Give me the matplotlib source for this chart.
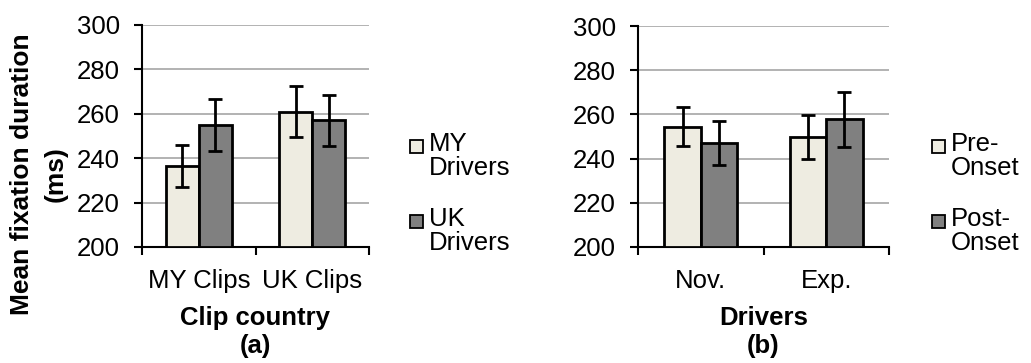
import matplotlib.pyplot as plt
import numpy as np
from matplotlib.patches import Rectangle

plt.rcParams['font.family'] = ['Liberation Sans', 'DejaVu Sans']

# panel (a)
clips = ['MY Clips', 'UK Clips']
my_drivers = [236.5, 261.0]
my_drivers_err = [9.5, 11.3]
uk_drivers = [254.9, 257.0]
uk_drivers_err = [11.7, 11.3]

# panel (b)
groups = ['Nov.', 'Exp.']
pre_onset = [254.5, 249.8]
pre_onset_err = [9.0, 10.1]
post_onset = [247.0, 257.7]
post_onset_err = [9.9, 12.6]

light = '#eeece1'
dark = '#808080'
fs = 18.5

W, H = 1031, 363
fig = plt.figure(figsize=(W / 100, H / 100), dpi=100)


def panel(rect, cats, a, a_err, b, b_err, xlabel, tag, leg_labels, leg_x):
    ax = fig.add_axes([rect[0] / W, 1 - rect[3] / H, (rect[2] - rect[0]) / W, (rect[3] - rect[1]) / H])
    x = np.arange(len(cats)) + 0.5
    w = 0.289
    ek = dict(ecolor='black', elinewidth=2, capsize=5, capthick=2)
    ax.bar(x - w / 2, np.array(a) - 200, w, bottom=200, yerr=a_err, color=light,
           edgecolor='black', linewidth=2, error_kw=ek, zorder=3)
    ax.bar(x + w / 2, np.array(b) - 200, w, bottom=200, yerr=b_err, color=dark,
           edgecolor='black', linewidth=2, error_kw=ek, zorder=3)
    ax.set_xlim(0, len(cats))
    ax.set_ylim(200, 300)
    ax.set_yticks(np.arange(200, 301, 20))
    ax.yaxis.grid(True, color='#a6a6a6', linewidth=1.2, zorder=0)
    ax.set_axisbelow(True)
    for s in ['top', 'right']:
        ax.spines[s].set_visible(False)
    ax.spines['left'].set_linewidth(1.5)
    ax.spines['bottom'].set_linewidth(1.5)
    ax.set_xticks(np.arange(len(cats) + 1))
    ax.set_xticklabels([])
    ax.set_xticks(x, minor=True)
    ax.set_xticklabels(cats, minor=True, fontsize=fs)
    ax.tick_params(axis='x', which='major', length=6, width=1.5, direction='out')
    ax.tick_params(axis='x', which='minor', length=0, pad=16)
    ax.tick_params(axis='y', length=6, width=1.5, labelsize=fs, pad=10)
    cx = (rect[0] + rect[2]) / 2 / W
    fig.text(cx, 1 - 318 / H, xlabel, ha='center', va='center', fontsize=fs, fontweight='bold')
    fig.text(cx, 1 - 346 / H, tag, ha='center', va='center', fontsize=fs, fontweight='bold')
    # legend
    for i, (lab, col) in enumerate(zip(leg_labels, [light, dark])):
        top = 137 + 75 * i
        fig.patches.append(Rectangle((leg_x / W, 1 - (top + 16) / H), 13 / W, 13 / H,
                                     transform=fig.transFigure, facecolor=col,
                                     edgecolor='black', linewidth=1.3))
        fig.text((leg_x + 19) / W, 1 - (top - 5) / H, lab, ha='left', va='top',
                 fontsize=fs, linespacing=1.0)
    return ax


panel((142, 25, 369, 247), clips, my_drivers, my_drivers_err, uk_drivers, uk_drivers_err,
      'Clip country', '(a)', ['MY\nDrivers', 'UK\nDrivers'], 410)
panel((638, 26, 889, 247), groups, pre_onset, pre_onset_err, post_onset, post_onset_err,
      'Drivers', '(b)', ['Pre-\nOnset', 'Post-\nOnset'], 932)

fig.text(39 / W, 1 - 174 / H, 'Mean fixation duration\n(ms)', rotation=90, ha='center',
         va='center', fontsize=19, fontweight='bold', linespacing=1.5)

fig.savefig('out.png', dpi=100)
